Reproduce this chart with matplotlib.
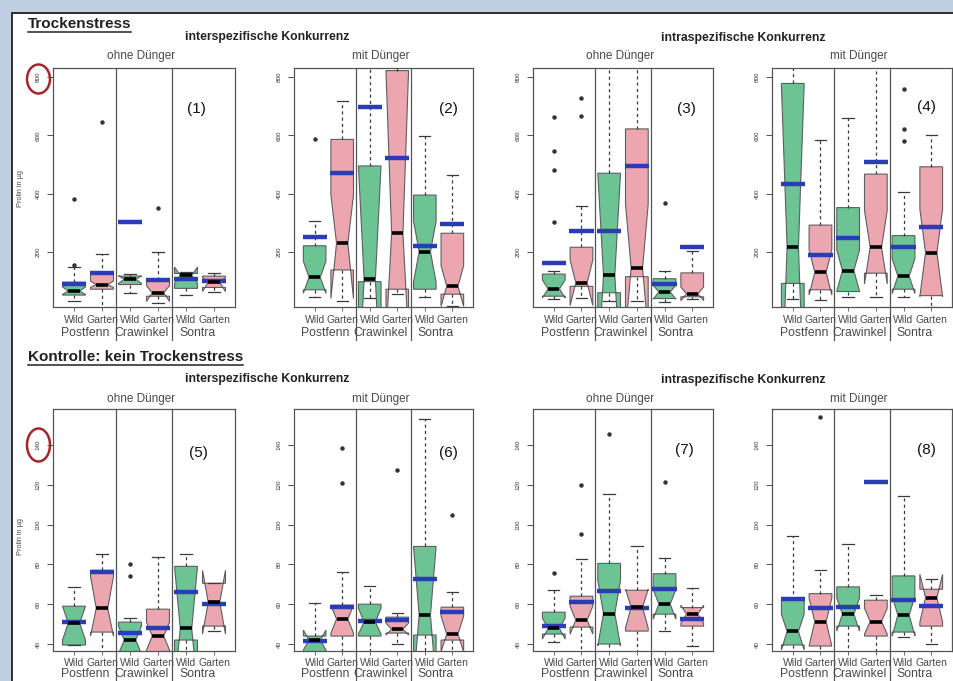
import matplotlib
matplotlib.use("Agg")
import matplotlib.pyplot as plt
from matplotlib.patches import Rectangle, Ellipse
from matplotlib.lines import Line2D

plt.rcParams['font.family'] = ['Liberation Sans', 'DejaVu Sans']

# ---------------------------------------------------------------- labels
treatments = ["Trockenstress", "Kontrolle: kein Trockenstress"]
competition = ["interspezifische Konkurrenz", "intraspezifische Konkurrenz"]
fertiliser = ["ohne Dünger", "mit Dünger", "ohne Dünger", "mit Dünger"]
sites = ["Postfenn", "Crawinkel", "Sontra"]
origins = ["Wild", "Garten", "Wild", "Garten", "Wild", "Garten"]
panel_tags = ["(1)", "(2)", "(3)", "(4)", "(5)", "(6)", "(7)", "(8)"]
y_label = "Prolin in µg"
y_ticks_stress = [200, 400, 600, 800]
y_ticks_control = [40, 60, 80, 100, 120, 140]

# ------------------------------------------- box statistics, panels 1..8
# box order in every panel: Postfenn Wild/Garten, Crawinkel Wild/Garten,
# Sontra Wild/Garten
whisker_low = [
    [30, 5, 58, 25, 52, 62],
    [44, 33, 41, 55, 47, 15],
    [38, 43, 33, 30, 27, 37],
    [38, 35, 44, 46, 44, 12],
    [39.5, 30, 30, 30, 30, 46.5],
    [30, 32, 32, 40, 30, 35],
    [41, 32, 30, 32, 46.7, 39],
    [30, 30, 30, 30, 43.3, 40],
]
quartile_1 = [
    [52, 72, 88, 48, 75, 78],
    [70, 138, 98, 72, 72, 55],
    [48, 82, 60, 115, 40, 46],
    [92, 70, 64, 127, 72, 50],
    [39.5, 46, 35, 35, 42, 49],
    [34, 44, 44, 45.5, 44.5, 42],
    [45, 48.5, 40, 46.5, 55, 49],
    [39.5, 39, 49, 44, 46, 49],
]
median = [
    [66, 88, 106, 60, 120, 96],
    [113, 230, 106, 264, 201, 83],
    [73, 94, 121, 144, 62, 56],
    [218, 130, 136, 216, 117, 197],
    [50.5, 58, 42, 44, 47.8, 61],
    [42, 52.5, 51, 47.5, 54.5, 45],
    [47.8, 52, 55.3, 58.5, 60, 55],
    [46.3, 51.3, 55, 51.3, 54.5, 63.3],
]
quartile_3 = [
    [96, 124, 117, 105, 126, 117],
    [221, 586, 495, 822, 395, 264],
    [124, 216, 470, 622, 108, 128],
    [778, 292, 352, 467, 256, 492],
    [59, 77, 51, 57.5, 79, 70.5],
    [44, 59.5, 60, 53.5, 89, 58.5],
    [56, 64, 80.5, 67, 75.3, 58.3],
    [62, 65.3, 68.7, 62, 74.2, 67.5],
]
whisker_high = [
    [148, 193, 123, 200, 130, 128],
    [305, 719, 900, 850, 597, 464],
    [134, 358, 900, 900, 136, 203],
    [900, 584, 658, 900, 407, 601],
    [68.5, 85, 53, 83.5, 85.3, 70.5],
    [60.5, 76, 69, 55.5, 153, 66],
    [67, 82.5, 115.3, 89, 83, 68],
    [94.2, 77.2, 90, 64.5, 114.2, 72.5],
]
notch_low = [
    [54, 78, 92, 30, 92, 64],
    [58, 40, -283, -100, 96, 13],
    [42, 16, -229, -76, 38, 33],
    [-334, 52, 66, 90, 57, 47],
    [42, 44, 35, 37, 17, 45],
    [37, 45.5, 45, 44.5, 20, 36],
    [42.5, 45, 39, 48, 52.5, 50.5],
    [37, 39, 46.5, 45, 44, 51],
]
notch_high = [
    [80, 100, 118, 84, 148, 112],
    [168, 395, 495, 820, 306, 153],
    [104, 172, 470, 364, 86, 80],
    [770, 208, 206, 342, 177, 347],
    [59, 74, 49, 51, 79, 77],
    [47, 59.5, 58, 50.5, 89, 54],
    [53, 59, 72, 67.5, 67.5, 59.5],
    [55, 63, 63, 58, 64, 75],
]
mean = [
    [91, 127, 304, 104, 106, 99],
    [250, 470, 698, 523, 221, 296],
    [161, 273, 272, 495, 90, 218],
    [433, 190, 247, 510, 218, 284],
    [51, 76, 45.5, 47.8, 66, 60],
    [41.5, 58.8, 51.5, 52, 72.5, 56],
    [49.2, 61, 66.7, 58.3, 67.5, 52.5],
    [62.5, 58, 58.8, 121.2, 62.2, 59.2],
]
outliers = [
    [[155, 380], [645], [], [352], [], []],
    [[586], [], [], [], [], []],
    [[304, 481, 547, 662], [667, 727], [], [], [368], []],
    [[], [], [], [], [582, 622, 758], []],
    [[], [], [74, 80], [], [], []],
    [[], [121, 138.3], [], [127.5], [], [104.7]],
    [[75.8], [95, 119.7], [145.5], [], [121.3], []],
    [[], [154], [], [], [], []],
]

# ---------------------------------------------------------------- style
W, H = 954, 681
WILD = "#6cc495"
GARDEN = "#eca6b0"
MEAN_BLUE = "#2b3db4"
FRAME = "#555555"
TEXT_GREY = "#4a4a4a"

def fx(px):
    return px / W

def fy(py):
    return 1 - py / H

fig = plt.figure(figsize=(W / 100, H / 100), dpi=100)
fig.patch.set_facecolor("#bfd0e3")
fig.add_artist(Rectangle((fx(12), -0.05), 1.1, fy(13) + 0.05,
                         transform=fig.transFigure, facecolor="white",
                         edgecolor="#2e2e2e", lw=1.4, zorder=0))

col_left = [53, 294, 533, 772]
col_right = [235, 473, 713, 952]
row_top = [68, 409]
row_bottom = [307, 651]
row_ylim = [(11, 831), (36.5, 158)]
row_ticks = [y_ticks_stress, y_ticks_control]
row_label_off = [(13, 26), (12, 23)]
tag_pos = [(0.79, 0.83), (0.86, 0.83), (0.85, 0.83), (0.856, 0.835),
           (0.80, 0.82), (0.86, 0.82), (0.84, 0.83), (0.86, 0.83)]
positions = [1, 2, 3, 4, 5, 6]
px_to_pt = 0.72

for p in range(8):
    row, col = divmod(p, 4)
    l, r = col_left[col], col_right[col]
    t, b = row_top[row], row_bottom[row]
    ax = fig.add_axes([fx(l), fy(b), (r - l) / W, (b - t) / H])
    ax.set_facecolor("white")

    stats = []
    for i in range(6):
        stats.append(dict(
            whislo=whisker_low[p][i], q1=quartile_1[p][i], med=median[p][i],
            q3=quartile_3[p][i], whishi=whisker_high[p][i],
            cilo=notch_low[p][i], cihi=notch_high[p][i],
            fliers=outliers[p][i]))
    bp = ax.bxp(stats, positions=positions, widths=0.82, patch_artist=True,
                shownotches=True, showfliers=True,
                boxprops=dict(edgecolor="#5e5e5e", lw=0.8),
                whiskerprops=dict(color="#3a3a3a", lw=0.9, ls=(0, (2.5, 2.5))),
                capprops=dict(color="#3a3a3a", lw=0.9),
                medianprops=dict(color="black", lw=2.6, zorder=5),
                flierprops=dict(marker="o", ms=2.2, mfc="#333333",
                                mec="#333333", ls="none"))
    for i, box in enumerate(bp["boxes"]):
        box.set_facecolor(WILD if i % 2 == 0 else GARDEN)

    # group means as thick blue bars
    ax.hlines(mean[p], [x - 0.44 for x in positions],
              [x + 0.44 for x in positions], color=MEAN_BLUE, lw=3.2,
              zorder=4)

    ax.set_xlim(0.25, 6.75)
    ax.set_ylim(*row_ylim[row])
    ax.set_yticks(row_ticks[row])
    ax.set_yticklabels([str(v) for v in row_ticks[row]], rotation=90,
                       va="center")
    ax.tick_params(axis="y", length=4, width=0.6, pad=5, labelsize=4.5,
                   colors="#333333")
    ax.set_xticks(positions)
    ax.set_xticklabels([])
    ax.tick_params(axis="x", length=3, width=0.6, colors="#555555")
    for s in ax.spines.values():
        s.set_color(FRAME)
        s.set_linewidth(0.9)

    # site separators running down through the labels
    xt = ax.get_xaxis_transform()
    for xv in (2.5, 4.5):
        ax.add_line(Line2D([xv, xv], [-0.14 if row == 0 else -0.3, 1],
                           transform=xt, color=FRAME, lw=0.9,
                           clip_on=False))

    off1, off2 = row_label_off[row]
    for x, lab in zip(positions, origins):
        ax.annotate(lab, xy=(x, 0), xycoords=xt,
                    xytext=(0, -off1 * px_to_pt), textcoords="offset points",
                    ha="center", va="center", fontsize=7.5, color=TEXT_GREY,
                    annotation_clip=False)
    for k, site in enumerate(sites):
        ax.annotate(site, xy=(1.5 + 2 * k, 0), xycoords=xt,
                    xytext=(-2, -off2 * px_to_pt), textcoords="offset points",
                    ha="center", va="center", fontsize=8.8, color=TEXT_GREY,
                    annotation_clip=False)

    ax.text(tag_pos[p][0], tag_pos[p][1], panel_tags[p],
            transform=ax.transAxes, ha="center", va="center", fontsize=11,
            color="#111111")

    sub_y = 56 if row == 0 else 399
    fig.text(fx((l + r) / 2 - 3), fy(sub_y), fertiliser[col], ha="center",
             va="center", fontsize=8.5, color=TEXT_GREY)

# competition headers
for row, yy in enumerate([37, 379]):
    fig.text(fx(267), fy(yy), competition[0], ha="center", va="center",
             fontsize=8.8, fontweight="bold", color="#222222")
    fig.text(fx(743), fy(yy + 1), competition[1], ha="center", va="center",
             fontsize=8.8, fontweight="bold", color="#222222")

# treatment headings with underline
heads = []
for txt, yy in zip(treatments, [24, 357]):
    heads.append((fig.text(fx(28), fy(yy), txt, ha="left", va="center",
                           fontsize=11, fontweight="bold",
                           color="#222222"), yy))
fig.canvas.draw()
for h, yy in heads:
    bb = h.get_window_extent()
    fig.add_artist(Line2D([bb.x0 / W, bb.x1 / W],
                          [fy(yy + 7.5), fy(yy + 7.5)],
                          transform=fig.transFigure, color="#222222",
                          lw=1.1))

# y axis titles and highlighted top tick labels
for yy in (189, 537):
    fig.text(fx(21), fy(yy), y_label, rotation=90, ha="center", va="center",
             fontsize=5.3, color=TEXT_GREY)
for yy, hh in ((79, 29), (445, 33)):
    fig.add_artist(Ellipse((fx(38.5), fy(yy)), 23 / W, hh / H,
                           transform=fig.transFigure, fill=False,
                           edgecolor="#a3262a", lw=1.8))

fig.savefig("out.png", dpi=100, facecolor=fig.get_facecolor())
